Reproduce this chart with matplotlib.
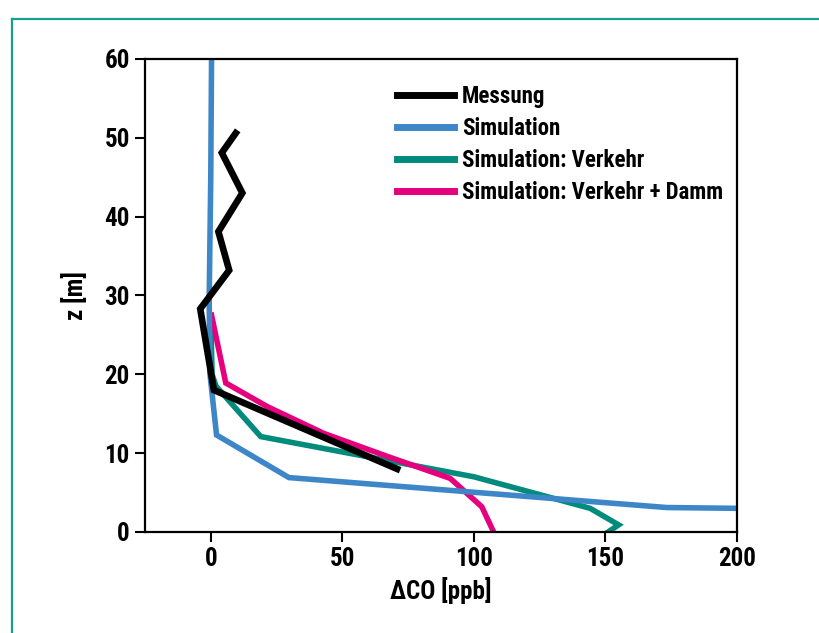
import numpy as np
import matplotlib
matplotlib.use("Agg")
import matplotlib.pyplot as plt
from matplotlib.lines import Line2D

plt.rcParams['font.family'] = ['Roboto Condensed', 'Barlow Condensed', 'DejaVu Sans']
plt.rcParams['font.weight'] = 'bold'

# Messung
mess_x = [9.5, 4.2, 12.0, 2.9, 7.0, -4.0, 1.2, 70.8]
mess_z = [50.6, 48.1, 43.0, 38.1, 33.2, 28.3, 18.0, 8.0]

# Simulation
sim_x = [0.3, 0.0, -0.6, -0.3, 2.2, 29.7, 173.3, 200.0]
sim_z = [60.0, 45.0, 29.5, 20.0, 12.3, 6.9, 3.1, 3.0]

# Simulation: Verkehr
verk_x = [0.0, 0.5, 2.0, 19.0, 100.0, 144.2, 155.0, 151.0]
verk_z = [27.0, 20.0, 18.5, 12.1, 7.0, 3.0, 0.9, 0.0]

# Simulation: Verkehr + Damm
damm_x = [0.3, 5.7, 21.5, 43.0, 67.0, 91.0, 103.0, 107.5]
damm_z = [27.5, 18.9, 15.9, 12.5, 9.6, 6.8, 3.2, 0.0]

labels = ["Messung", "Simulation", "Simulation: Verkehr", "Simulation: Verkehr + Damm"]
colors = ["#000000", "#3d87c8", "#008b7c", "#e6007e"]

fig = plt.figure(figsize=(8.2, 6.33), dpi=100)
ax = fig.add_axes([0.1768, 0.1596, 0.7220, 0.7472])

# Rahmen oben/links
fig.add_artist(Line2D([12 / 820, 1.0], [1 - 19 / 633, 1 - 19 / 633], color="#1a9e8f", lw=1.6))
fig.add_artist(Line2D([12 / 820, 12 / 820], [0.0, 1 - 19 / 633], color="#1a9e8f", lw=1.6))

ax.plot(verk_x, verk_z, color=colors[2], lw=4.0, solid_joinstyle='miter')
ax.plot(damm_x, damm_z, color=colors[3], lw=4.0, solid_joinstyle='miter')
ax.plot(sim_x, sim_z, color=colors[1], lw=4.0, solid_joinstyle='miter')
ax.plot(mess_x, mess_z, color=colors[0], lw=4.8, solid_joinstyle='miter')

handles = [Line2D([], [], color=c, lw=5.0) for c in colors]
ax.legend(handles, labels, loc='upper left', bbox_to_anchor=(0.425, 0.946), frameon=False,
          fontsize=16.5, handlelength=2.5, handletextpad=0.35, labelspacing=0.40,
          borderaxespad=0, borderpad=0)

ax.set_xlim(-25, 200)
ax.set_ylim(0, 60)
ax.set_xticks([0, 50, 100, 150, 200])
ax.set_yticks([0, 10, 20, 30, 40, 50, 60])
ax.tick_params(direction='out', length=7, width=1.5, labelsize=18, pad=4)
for s in ax.spines.values():
    s.set_linewidth(1.6)

ax.set_xlabel("ΔCO [ppb]", fontsize=18, fontweight='bold', labelpad=4)
ax.set_ylabel("z [m]", fontsize=18, fontweight='bold', labelpad=12)

fig.savefig("out.png", dpi=100)
